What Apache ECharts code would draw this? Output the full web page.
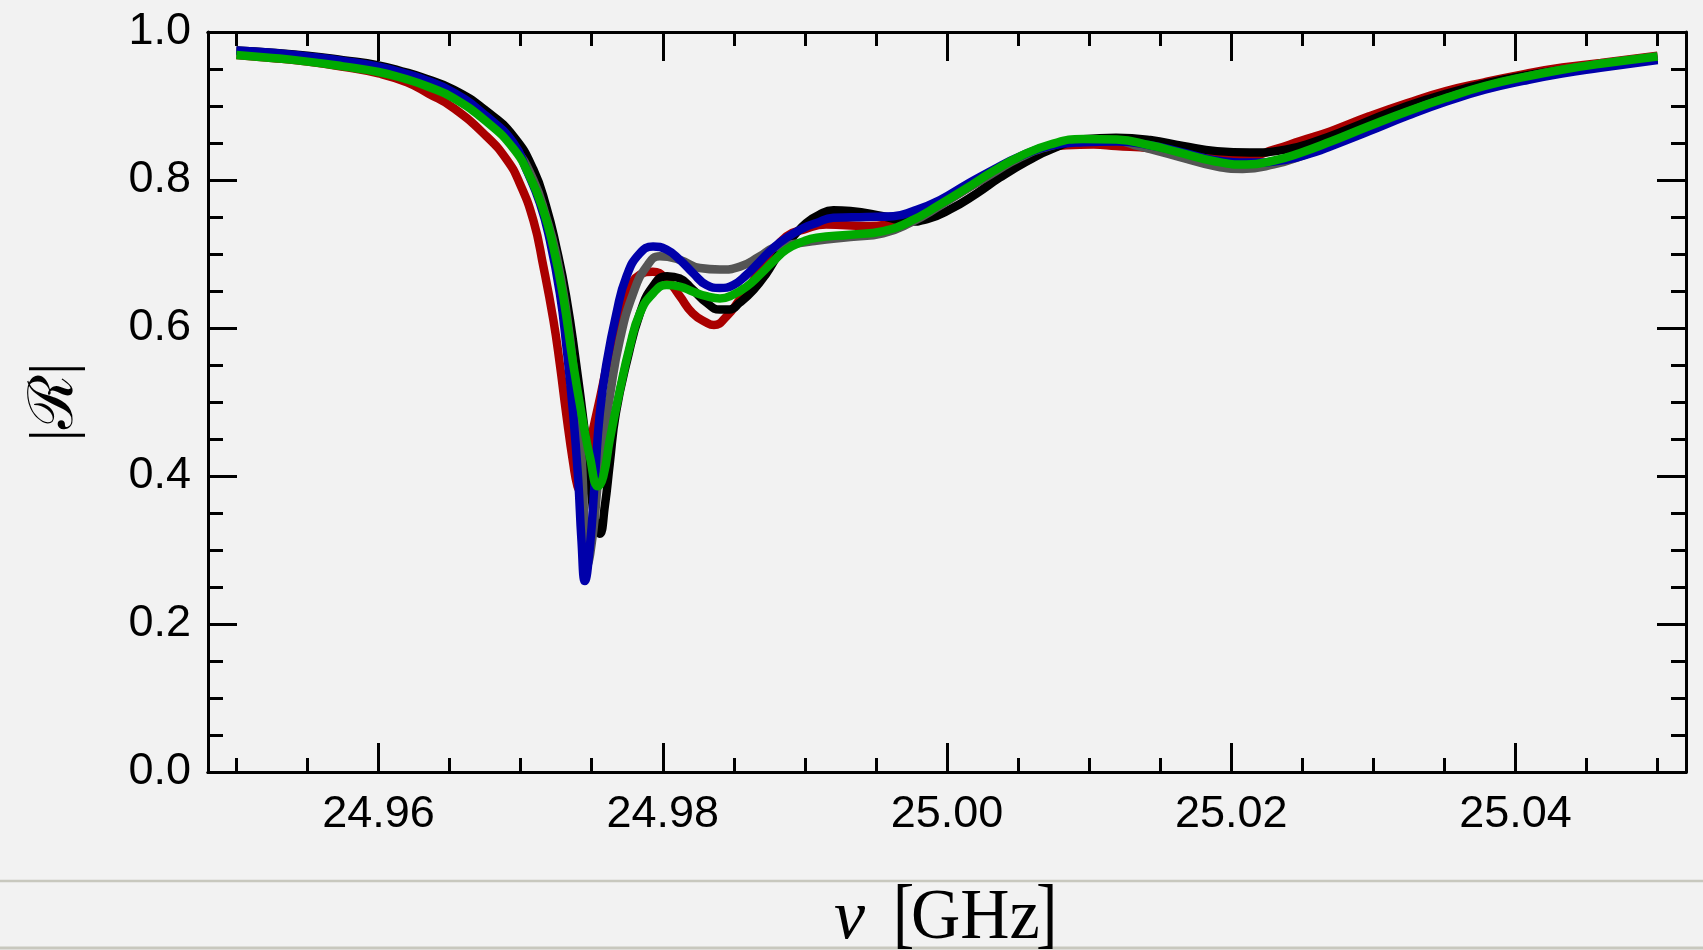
<!DOCTYPE html>
<html>
<head>
<meta charset="utf-8">
<script src="https://cdn.jsdelivr.net/npm/echarts@6/dist/echarts.min.js"></script>
<style>
html,body{margin:0;padding:0;background:#f2f2f2;}
#chart{width:1703px;height:950px;}
</style>
</head>
<body>
<div id="chart"></div>
<script>
// ---- data: [frequency GHz, |R|] ----
const redCurve = [[24.950,0.969],[24.9525,0.965],[24.955,0.960],[24.9575,0.953],[24.960,0.944],[24.962,0.932],[24.9635,0.917],[24.9653,0.897],[24.9676,0.859],[24.9690,0.828],[24.9699,0.797],[24.9709,0.745],[24.9716,0.683],[24.9723,0.611],[24.97275,0.552],[24.9732,0.485],[24.9737,0.417],[24.9740,0.386],[24.9742,0.381],[24.97445,0.392],[24.9746,0.417],[24.9756,0.507],[24.9765,0.584],[24.9775,0.647],[24.9784,0.672],[24.9793,0.676],[24.9803,0.665],[24.9812,0.643],[24.9821,0.620],[24.9831,0.607],[24.9836,0.604],[24.9845,0.616],[24.9854,0.638],[24.9864,0.665],[24.9875,0.697],[24.9887,0.724],[24.9899,0.733],[24.9915,0.740],[24.9943,0.738],[24.9962,0.743],[24.9981,0.758],[25.0000,0.773],[25.0019,0.794],[25.0037,0.814],[25.0061,0.834],[25.0084,0.847],[25.0103,0.848],[25.0119,0.846],[25.0143,0.843],[25.0164,0.837],[25.0189,0.832],[25.0212,0.832],[25.0230,0.841],[25.0249,0.853],[25.0270,0.866],[25.0297,0.886],[25.0324,0.904],[25.0351,0.920],[25.0378,0.932],[25.0406,0.943],[25.0433,0.952],[25.0460,0.958],[25.0500,0.968]];
const blackCurve = [[24.950,0.975],[24.9525,0.972],[24.955,0.968],[24.9575,0.962],[24.960,0.955],[24.962,0.945],[24.9629,0.940],[24.9653,0.922],[24.9676,0.893],[24.9695,0.859],[24.9709,0.814],[24.9718,0.764],[24.9725,0.710],[24.9732,0.643],[24.9739,0.552],[24.9745,0.462],[24.97487,0.395],[24.97522,0.341],[24.97557,0.322],[24.97592,0.359],[24.97627,0.417],[24.9767,0.485],[24.9775,0.557],[24.9784,0.620],[24.9793,0.656],[24.9803,0.670],[24.9812,0.667],[24.9821,0.652],[24.9831,0.634],[24.9840,0.625],[24.9847,0.625],[24.9854,0.634],[24.9864,0.652],[24.9873,0.674],[24.9882,0.701],[24.9892,0.724],[24.9901,0.742],[24.9910,0.753],[24.9920,0.759],[24.9932,0.758],[24.9955,0.751],[24.9974,0.744],[24.9986,0.747],[25.0002,0.760],[25.0021,0.782],[25.0037,0.803],[25.0056,0.825],[25.0075,0.843],[25.0096,0.855],[25.0119,0.857],[25.0143,0.854],[25.0166,0.846],[25.0190,0.839],[25.0213,0.837],[25.0238,0.841],[25.0259,0.852],[25.0284,0.870],[25.0311,0.891],[25.0338,0.909],[25.0365,0.924],[25.0392,0.936],[25.0419,0.945],[25.0446,0.952],[25.0473,0.957],[25.0500,0.963]];
const grayCurve = [[24.950,0.974],[24.9525,0.971],[24.955,0.966],[24.9575,0.960],[24.960,0.952],[24.962,0.941],[24.9629,0.936],[24.9653,0.915],[24.9676,0.883],[24.9695,0.846],[24.9709,0.800],[24.9718,0.750],[24.9725,0.700],[24.9732,0.625],[24.9738,0.530],[24.9743,0.420],[24.97470,0.280],[24.97512,0.327],[24.97557,0.417],[24.97627,0.507],[24.97698,0.584],[24.97792,0.647],[24.97886,0.683],[24.97979,0.697],[24.98120,0.692],[24.98261,0.681],[24.98402,0.679],[24.98543,0.683],[24.98683,0.697],[24.98777,0.708],[24.9890,0.713],[24.9908,0.718],[24.9932,0.723],[24.9955,0.728],[24.9974,0.742],[24.9995,0.765],[25.0014,0.788],[25.0033,0.810],[25.0051,0.830],[25.0073,0.846],[25.0096,0.854],[25.0119,0.853],[25.0135,0.8456],[25.0162,0.832],[25.0189,0.8185],[25.0208,0.815],[25.0230,0.821],[25.0249,0.832],[25.0270,0.849],[25.0297,0.871],[25.0324,0.892],[25.0351,0.910],[25.0378,0.926],[25.0406,0.939],[25.0433,0.949],[25.0460,0.957],[25.0500,0.967]];
const blueCurve = [[24.950,0.975],[24.9525,0.972],[24.955,0.967],[24.9575,0.961],[24.960,0.953],[24.962,0.943],[24.9629,0.938],[24.9653,0.918],[24.9676,0.886],[24.9695,0.850],[24.9704,0.814],[24.97135,0.769],[24.97205,0.719],[24.97276,0.647],[24.97322,0.575],[24.97369,0.485],[24.97405,0.395],[24.97428,0.313],[24.97452,0.258],[24.97487,0.304],[24.97522,0.395],[24.97557,0.485],[24.97604,0.552],[24.97674,0.620],[24.97745,0.670],[24.97839,0.701],[24.97932,0.710],[24.98026,0.706],[24.98120,0.692],[24.98214,0.674],[24.98308,0.658],[24.98402,0.654],[24.98496,0.658],[24.98590,0.672],[24.98683,0.690],[24.98777,0.708],[24.98871,0.722],[24.98989,0.735],[24.99082,0.742],[24.99200,0.749],[24.99434,0.750],[24.99622,0.751],[24.99763,0.758],[24.99951,0.773],[25.00138,0.794],[25.00326,0.814],[25.00514,0.832],[25.00725,0.846],[25.00959,0.851],[25.01194,0.852],[25.01429,0.847],[25.01663,0.837],[25.01898,0.8265],[25.02133,0.8237],[25.02377,0.827],[25.02593,0.838],[25.02701,0.8456],[25.02972,0.866],[25.03243,0.887],[25.03514,0.906],[25.03784,0.922],[25.04055,0.934],[25.04326,0.944],[25.04597,0.9515],[25.0500,0.962]];
const greenCurve = [[24.950,0.969],[24.9525,0.965],[24.955,0.960],[24.9575,0.9535],[24.960,0.946],[24.962,0.936],[24.9635,0.926],[24.96525,0.911],[24.96759,0.879],[24.96947,0.843],[24.97064,0.805],[24.97158,0.760],[24.97229,0.710],[24.97299,0.643],[24.97369,0.552],[24.97440,0.472],[24.97487,0.426],[24.97545,0.386],[24.97581,0.399],[24.97627,0.449],[24.97698,0.516],[24.97768,0.575],[24.97839,0.620],[24.97932,0.647],[24.98026,0.658],[24.98120,0.656],[24.98214,0.649],[24.98308,0.643],[24.98402,0.640],[24.98496,0.645],[24.98590,0.656],[24.98683,0.672],[24.98777,0.690],[24.98871,0.706],[24.98989,0.717],[24.99082,0.722],[24.99317,0.726],[24.99552,0.731],[24.99739,0.744],[24.99951,0.767],[25.00138,0.789],[25.00326,0.812],[25.00514,0.832],[25.00725,0.848],[25.00959,0.8555],[25.01194,0.8546],[25.01429,0.847],[25.01618,0.838],[25.01889,0.825],[25.02106,0.8208],[25.02295,0.826],[25.02485,0.8366],[25.02701,0.852],[25.02972,0.873],[25.03243,0.893],[25.03514,0.911],[25.03784,0.927],[25.04055,0.939],[25.04326,0.949],[25.04597,0.957],[25.0500,0.967]];

const xMajorTicks = [24.96, 24.98, 25.00, 25.02, 25.04];
const xMinorTicks = [24.95, 24.955, 24.96, 24.965, 24.97, 24.975, 24.98, 24.985, 24.99, 24.995, 25.00, 25.005, 25.01, 25.015, 25.02, 25.025, 25.03, 25.035, 25.04, 25.045, 25.05];
const xRange = [24.948, 25.052];
const yTickLabels = ['0.0', '0.2', '0.4', '0.6', '0.8', '1.0'];
const xTitle = ['ν', '[', 'GHz', ']'];
const yTitle = '|ℛ|';

// ---- chart ----
const chart = echarts.init(document.getElementById('chart'), null, {renderer: 'canvas'});
const frame = {show: true, lineStyle: {color: '#000', width: 3}};
const labelFont = {fontFamily: '"Liberation Sans", Arial, sans-serif', fontSize: 45, color: '#000'};

function xAx(pos, major) {
  return {
    type: 'value', position: pos, min: xRange[0], max: xRange[1],
    axisLine: frame,
    splitLine: {show: false},
    axisTick: {show: true, inside: true, length: major ? 29 : 14, lineStyle: {color: '#000', width: 3},
      customValues: major ? xMajorTicks : xMinorTicks},
    axisLabel: Object.assign({show: major && pos === 'bottom', margin: 20,
      customValues: xMajorTicks, formatter: v => v.toFixed(2)}, labelFont)
  };
}
function yAx(pos) {
  return {
    type: 'value', position: pos, min: 0, max: 1, interval: 0.2,
    axisLine: frame,
    splitLine: {show: false},
    axisTick: {show: true, inside: true, length: 29, lineStyle: {color: '#000', width: 3}},
    minorTick: {show: true, splitNumber: 4, length: 15, lineStyle: {color: '#000', width: 3}},
    minorSplitLine: {show: false},
    axisLabel: Object.assign({show: pos === 'left', margin: 17, padding: [0, 0, 5, 0],
      formatter: v => yTickLabels[Math.round(v / 0.2)]}, labelFont)
  };
}
function ser(name, data, color, z) {
  return {
    name, type: 'line', data, xAxisIndex: 0, yAxisIndex: 0,
    showSymbol: false, symbol: 'none', smooth: true,
    lineStyle: {color: color, width: 8.5},
    z: z, silent: true
  };
}
const serifFont = '"Liberation Serif", "DejaVu Serif", serif';
chart.setOption({
  backgroundColor: '#f2f2f2',
  animation: false,
  grid: {left: 208, right: 17, top: 32, bottom: 178, containLabel: false},
  xAxis: [xAx('bottom', true), xAx('bottom', false), xAx('top', true), xAx('top', false)],
  yAxis: [yAx('left'), yAx('right')],
  series: [
    ser('red', redCurve, '#aa0000', 2),
    ser('black', blackCurve, '#000000', 3),
    ser('gray', grayCurve, '#555555', 4),
    ser('blue', blueCurve, '#0000aa', 5),
    ser('green', greenCurve, '#00aa00', 6)
  ],
  graphic: [
    {type: 'line', shape: {x1: 0, y1: 881, x2: 1703, y2: 881}, style: {stroke: '#c8c8be', lineWidth: 2.5}},
    {type: 'line', shape: {x1: 0, y1: 948, x2: 1703, y2: 948}, style: {stroke: '#c8c8be', lineWidth: 3}},
    {type: 'text', x: 834, y: 919.7, style: {text: xTitle[0], font: 'italic 70px ' + serifFont, fill: '#000', textAlign: 'left', textVerticalAlign: 'middle'}},
    {type: 'text', x: 893, y: 918.7, scaleY: 1.23, style: {text: xTitle[1], font: '64px ' + serifFont, fill: '#000', textAlign: 'left', textVerticalAlign: 'middle'}},
    {type: 'text', x: 911, y: 919.7, scaleX: 0.96, style: {text: xTitle[2], font: '71px ' + serifFont, fill: '#000', textAlign: 'left', textVerticalAlign: 'middle'}},
    {type: 'text', x: 1036, y: 918.7, scaleY: 1.23, style: {text: xTitle[3], font: '64px ' + serifFont, fill: '#000', textAlign: 'left', textVerticalAlign: 'middle'}},
    {type: 'text', x: 56, y: 402, rotation: Math.PI / 2, style: {text: yTitle, font: '62px ' + serifFont, fill: '#000', textAlign: 'center', textVerticalAlign: 'middle'}}
  ]
});
</script>
</body>
</html>
